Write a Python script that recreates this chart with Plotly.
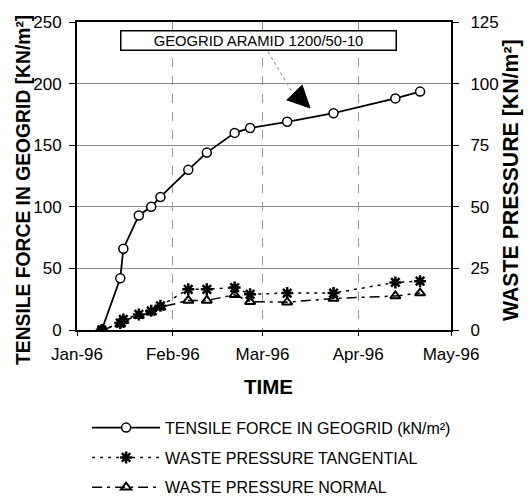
import plotly.graph_objects as go

dates = ["1996-01-09", "1996-01-15", "1996-01-16", "1996-01-21", "1996-01-25",
         "1996-01-28", "1996-02-06", "1996-02-12", "1996-02-21", "1996-02-26",
         "1996-03-09", "1996-03-24", "1996-04-13", "1996-04-21"]
tensile = [0, 42, 66, 93, 100, 108, 130, 144, 160, 164, 169, 176, 188, 193.5]
tangential = [0, 2.8, 4.3, 6.3, 7.8, 9.8, 16.5, 16.5, 17.2, 14.5, 15.0, 15.0, 19.3, 19.8]
normal = [0, 2.3, 3.8, 5.8, 7.2, 9.2, 12.0, 12.0, 14.3, 11.5, 11.3, 12.8, 13.8, 15.0]

tick_vals = ["1996-01-01", "1996-02-01", "1996-03-01", "1996-04-01", "1996-05-01"]
tick_text = ["Jan-96", "Feb-96", "Mar-96", "Apr-96", "May-96"]

FONT = "Liberation Sans, Arial, sans-serif"

fig = go.Figure()
fig.add_trace(go.Scatter(
    x=dates, y=tensile, name="TENSILE FORCE IN GEOGRID (kN/m²)",
    mode="lines+markers", legendgroup="a",
    line=dict(color="black", width=1.8),
    marker=dict(symbol="circle", size=9, color="white", line=dict(color="black", width=1.5)),
    yaxis="y"))
fig.add_trace(go.Scatter(
    x=dates, y=tangential, name="WASTE PRESSURE TANGENTIAL",
    mode="lines+markers", legendgroup="b",
    line=dict(color="black", width=1.5, dash="3px,5px"),
    marker=dict(symbol="asterisk-open", size=10, color="black", line=dict(color="black", width=2.5)),
    yaxis="y2"))
fig.add_trace(go.Scatter(
    x=dates, y=normal, name="WASTE PRESSURE NORMAL",
    mode="lines+markers", legendgroup="c",
    line=dict(color="black", width=1.5, dash="10px,5px,3px,5px"),
    marker=dict(symbol="triangle-up-open", size=9, color="black", line=dict(color="black", width=2)),
    yaxis="y2"))

fig.update_layout(
    width=531, height=499,
    margin=dict(l=77, r=80, t=22, b=169, autoexpand=False),
    paper_bgcolor="white", plot_bgcolor="white",
    font=dict(family=FONT, color="black", size=17),
    showlegend=True,
    legend=dict(x=0.027, y=-0.262, xanchor="left", yanchor="top",
                font=dict(size=16, family=FONT), tracegroupgap=6,
                bgcolor="rgba(0,0,0,0)", itemwidth=68),
    xaxis=dict(
        type="date", range=["1996-01-01", "1996-05-01"],
        tickvals=tick_vals, ticktext=tick_text,
        showgrid=True, gridcolor="#9a9a9a", griddash="dash", gridwidth=1,
        showline=True, linecolor="black", linewidth=2, mirror=True,
        ticks="outside", ticklen=4, tickcolor="black", ticklabelstandoff=4,
        tickfont=dict(size=17), automargin=False,
    ),
    yaxis=dict(
        range=[0, 250], dtick=50,
        showgrid=True, gridcolor="#8a8a8a", gridwidth=1.2,
        showline=True, linecolor="black", linewidth=2,
        ticks="outside", ticklen=6, tickcolor="black", ticklabelstandoff=4,
        tickfont=dict(size=17), zeroline=False, automargin=False,
    ),
    yaxis2=dict(
        range=[0, 125], dtick=25, overlaying="y", side="right",
        showgrid=False, showline=True, linecolor="black", linewidth=2,
        ticks="outside", ticklen=6, tickcolor="black", ticklabelstandoff=8,
        tickfont=dict(size=17), zeroline=False, automargin=False,
    ),
)

# axis titles
fig.add_annotation(xref="paper", yref="paper", x=-0.1444, y=0.4545,
                   xanchor="center", yanchor="middle", textangle=-90, showarrow=False,
                   text="<b>TENSILE FORCE IN GEOGRID [KN/m²]</b>", font=dict(size=19.3))
fig.add_annotation(xref="paper", yref="paper", x=1.1604, y=0.487,
                   xanchor="center", yanchor="middle", textangle=-90, showarrow=False,
                   text="<b>WASTE PRESSURE [KN/m²]</b>", font=dict(size=21.3))
fig.add_annotation(xref="paper", yref="paper", x=0.511, y=-0.185,
                   xanchor="center", yanchor="middle", showarrow=False,
                   text="<b>TIME</b>", font=dict(size=20.5))

# label box
fig.add_annotation(
    xref="paper", yref="paper", x=0.484, y=0.94, xanchor="center", yanchor="middle",
    text="GEOGRID ARAMID 1200/50-10", showarrow=False,
    font=dict(size=14.8, family=FONT), bgcolor="white",
    bordercolor="black", borderwidth=1.5, borderpad=1, width=272)

# pointer: dotted gray line and filled arrowhead
fig.add_shape(type="line", xref="paper", yref="paper",
              x0=0.511, y0=0.903, x1=0.575, y1=0.773,
              line=dict(color="#9a9a9a", width=1.2, dash="dot"))
fig.add_shape(type="path", xref="paper", yref="paper",
              path="M 0.602 0.795 L 0.561 0.747 L 0.623 0.721 Z",
              fillcolor="black", line=dict(color="black", width=1))

fig.write_html("out.html", config={"displayModeBar": False},
               post_script="document.body.style.margin='0px';")
